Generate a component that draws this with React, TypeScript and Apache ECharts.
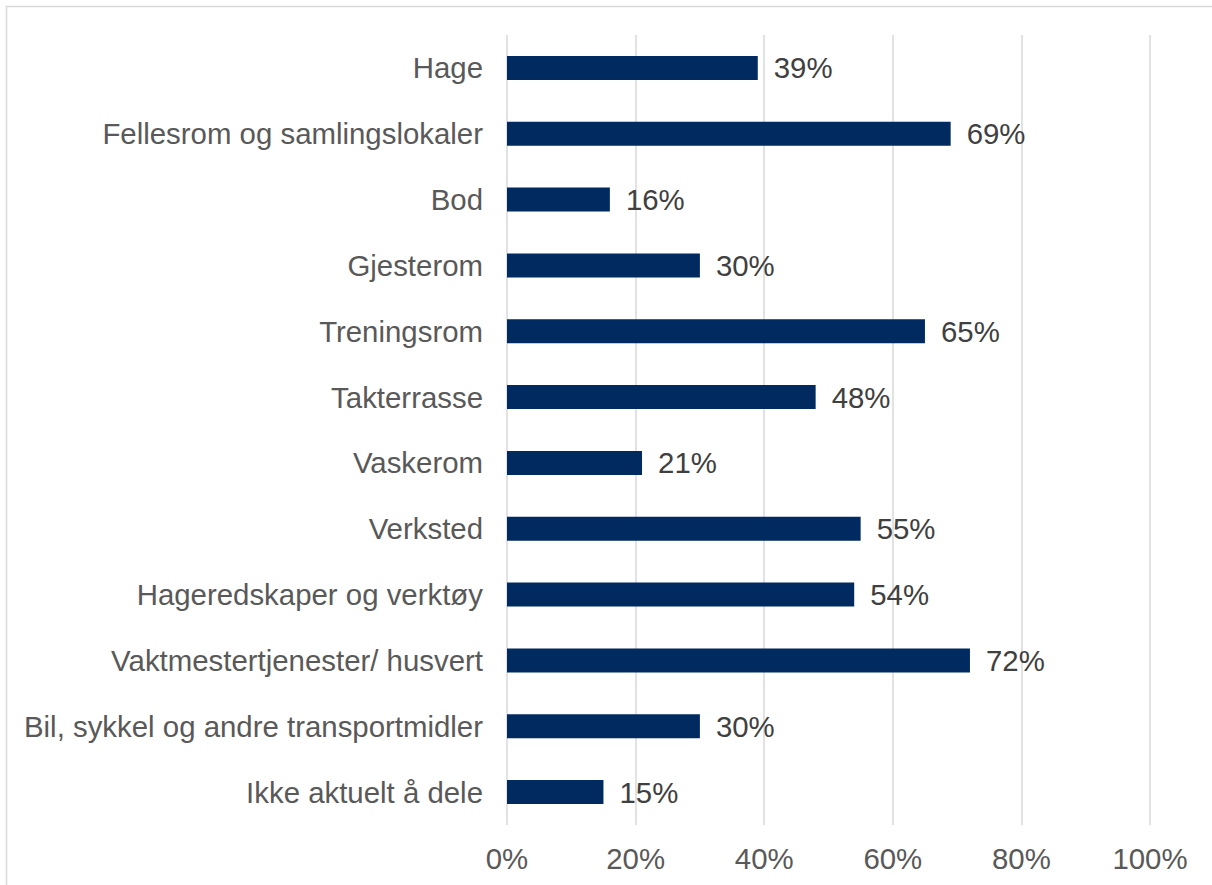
import React, { useEffect, useRef } from "react";
import * as echarts from "echarts";

const categories = [
  "Hage",
  "Fellesrom og samlingslokaler",
  "Bod",
  "Gjesterom",
  "Treningsrom",
  "Takterrasse",
  "Vaskerom",
  "Verksted",
  "Hageredskaper og verktøy",
  "Vaktmestertjenester/ husvert",
  "Bil, sykkel og andre transportmidler",
  "Ikke aktuelt å dele",
];
const values = [39, 69, 16, 30, 65, 48, 21, 55, 54, 72, 30, 15];
const axisMin = 0;
const axisMax = 100;
const axisStep = 20;

const FONT = "'Liberation Sans', Arial, sans-serif";
const FS = 29.4;

export default function App() {
  const ref = useRef<HTMLDivElement>(null);
  useEffect(() => {
    if (!ref.current) return;
    const chart = echarts.init(ref.current, null, { renderer: "svg" });
    chart.setOption({
      animation: false,
      backgroundColor: "#ffffff",
      textStyle: { fontFamily: FONT },
      graphic: [
        {
          type: "rect",
          shape: { x: 6.5, y: 6.5, width: 1400, height: 1000 },
          style: { fill: "none", stroke: "#d9d9d9", lineWidth: 1.5 },
          silent: true,
        },
      ],
      grid: { left: 507, right: 62, top: 35, bottom: 60 },
      xAxis: {
        type: "value",
        min: axisMin,
        max: axisMax,
        interval: axisStep,
        axisLine: { show: false },
        axisTick: { show: false },
        splitLine: { show: true, lineStyle: { color: "#d9d9d9", width: 1.5 } },
        axisLabel: {
          formatter: "{value}%",
          fontSize: FS,
          color: "#595959",
          fontFamily: FONT,
          margin: 19,
        },
      },
      yAxis: {
        type: "category",
        data: categories,
        inverse: true,
        axisLine: { show: false },
        axisTick: { show: false },
        axisLabel: {
          fontSize: FS,
          color: "#595959",
          fontFamily: FONT,
          margin: 24,
        },
      },
      series: [
        {
          type: "bar",
          data: values,
          barWidth: 24,
          itemStyle: { color: "#002A60" },
          label: {
            show: true,
            position: "right",
            distance: 16,
            formatter: "{c}%",
            fontSize: FS,
            color: "#404040",
            fontFamily: FONT,
          },
        },
      ],
    });
    return () => chart.dispose();
  }, []);
  return (
    <div
      ref={ref}
      style={{ position: "fixed", left: 0, top: 0, width: 1212, height: 885 }}
    />
  );
}
